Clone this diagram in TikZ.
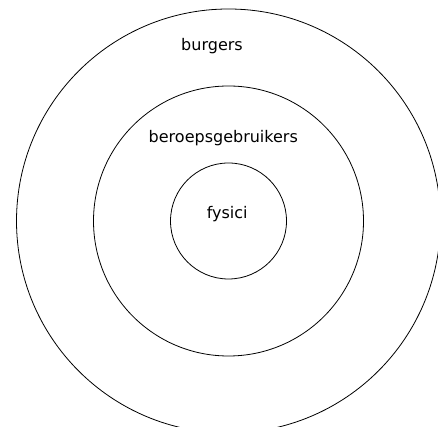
\documentclass[tikz,border=0pt]{standalone}
\usepackage{fontspec}
\setmainfont{DejaVu Sans}
\usetikzlibrary{positioning}

\begin{document}
\begin{tikzpicture}[
    x=1pt, y=1pt,
    ring/.style={draw, circle, line width=0.8pt, inner sep=0pt},
    label/.style={font=\fontsize{16}{18}\selectfont, inner sep=0pt, anchor=base}
]
  \useasboundingbox (0,0) rectangle (438,427);
  \clip (0,0) rectangle (438,427);
  \coordinate (mid) at (228.5,206);
  \node[ring, minimum size=424pt] (outer) at (mid) {};
  \node[ring, minimum size=270pt] (middle) at (mid) {};
  \node[ring, minimum size=116pt] (inner) at (mid) {};

  \node[label] (burg) at (212,376.3) {burgers};
  \node[label] (beroep) at (223.3,284.3) {beroepsgebruikers};
  \node[label] (fys) at (227.2,208.7) {fysici};
\end{tikzpicture}
\end{document}
